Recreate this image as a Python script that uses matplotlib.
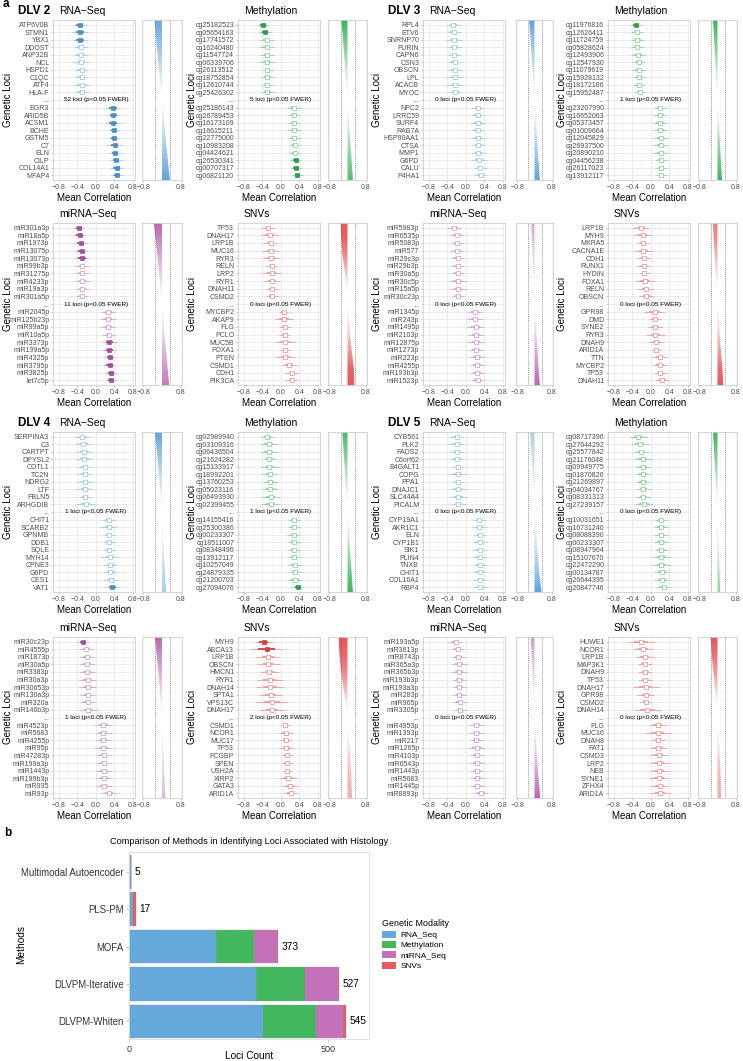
import numpy as np
import matplotlib.pyplot as plt
from matplotlib.colors import LinearSegmentedColormap
from matplotlib.patches import Patch
from matplotlib.path import Path

W, H = 743, 1061
plt.rcParams["font.family"] = ["Liberation Sans", "DejaVu Sans"]

# ---- panel a data: top 10 negative / top 10 positive loci per DLV and modality ----
dlv2_rna_loci = ["ATP6V0B", "STMN1", "YBX1", "DDOST", "ANP32B", "NCL", "HSPD1", "C1QC", "ATF4", "HLA-F",
                 "EGR3", "ARID5B", "ACSM1", "BCHE", "GSTM5", "C7", "ELN", "CILP", "COL14A1", "MFAP4"]
dlv2_rna_mean = [-0.35, -0.35, -0.34, -0.33, -0.32, -0.32, -0.31, -0.31, -0.31, -0.31,
                 0.37, 0.38, 0.38, 0.39, 0.40, 0.41, 0.42, 0.43, 0.45, 0.46]
dlv2_rna_err = [0.15, 0.17, 0.16, 0.15, 0.16, 0.17, 0.15, 0.15, 0.18, 0.16,
                0.16, 0.15, 0.17, 0.13, 0.13, 0.16, 0.13, 0.13, 0.15, 0.13]
dlv2_rna_filled = ["ATP6V0B", "STMN1", "YBX1", "EGR3", "ARID5B", "ACSM1", "BCHE", "GSTM5", "C7",
                   "ELN", "CILP", "COL14A1", "MFAP4"]
dlv2_rna_curve = [-0.32, -0.25, -0.17, -0.08, 0.01, 0.09, 0.17, 0.25, 0.34]

dlv2_meth_loci = ["cg25182523", "cg05654163", "cg17741572", "cg16240480", "cg11547724", "cg06339706",
                  "cg26113512", "cg18752854", "cg12610744", "cg25426302", "cg25186143", "cg26789453",
                  "cg16173109", "cg16615211", "cg22775000", "cg10983208", "cg04424621", "cg26530341",
                  "cg00707317", "cg06821120"]
dlv2_meth_mean = [-0.38, -0.35, -0.31, -0.31, -0.30, -0.30, -0.29, -0.29, -0.29, -0.29,
                  0.28, 0.29, 0.29, 0.29, 0.29, 0.30, 0.30, 0.32, 0.33, 0.36]
dlv2_meth_err = [0.13, 0.13, 0.16, 0.17, 0.15, 0.17, 0.12, 0.15, 0.13, 0.15,
                 0.15, 0.14, 0.14, 0.16, 0.14, 0.13, 0.13, 0.12, 0.12, 0.12]
dlv2_meth_filled = ["cg25182523", "cg05654163", "cg26530341", "cg00707317", "cg06821120"]
dlv2_meth_curve = [-0.27, -0.20, -0.13, -0.06, 0.0, 0.06, 0.12, 0.18, 0.24]

dlv2_mirna_loci = ["miR301a3p", "miR18a5p", "miR1973p", "miR13075p", "miR13073p", "miR99b3p", "miR31275p",
                   "miR4233p", "miR19a3p", "miR301a5p", "miR2045p", "miR125b23p", "miR99a5p", "miR10a5p",
                   "miR3373p", "miR199a5p", "miR4325p", "miR3795p", "miR3825p", "let7c5p"]
dlv2_mirna_mean = [-0.37, -0.35, -0.33, -0.31, -0.30, -0.30, -0.30, -0.29, -0.29, -0.29,
                   0.27, 0.27, 0.27, 0.28, 0.29, 0.29, 0.30, 0.30, 0.32, 0.33]
dlv2_mirna_err = [0.12, 0.14, 0.15, 0.14, 0.16, 0.15, 0.15, 0.17, 0.15, 0.13,
                  0.15, 0.17, 0.15, 0.14, 0.16, 0.15, 0.13, 0.14, 0.13, 0.14]
dlv2_mirna_filled = ["miR301a3p", "miR18a5p", "miR1973p", "miR13075p", "miR13073p", "miR3373p",
                     "miR199a5p", "miR4325p", "miR3795p", "miR3825p", "let7c5p"]
dlv2_mirna_curve = [-0.35, -0.26, -0.17, -0.08, 0.0, 0.07, 0.15, 0.23, 0.31]

dlv2_snv_loci = ["TP53", "DNAH17", "LRP1B", "MUC16", "RYR3", "RELN", "LRP2", "RYR1", "DNAH11", "CSMD2",
                 "MYCBP2", "AKAP9", "FLG", "PCLO", "MUC5B", "FOXA1", "PTEN", "CSMD1", "CDH1", "PIK3CA"]
dlv2_snv_mean = [-0.28, -0.24, -0.22, -0.22, -0.21, -0.20, -0.20, -0.19, -0.19, -0.19,
                 0.06, 0.07, 0.08, 0.08, 0.09, 0.09, 0.10, 0.18, 0.24, 0.24]
dlv2_snv_err = [0.14, 0.20, 0.16, 0.18, 0.17, 0.12, 0.20, 0.18, 0.13, 0.14,
                0.10, 0.20, 0.13, 0.12, 0.22, 0.10, 0.20, 0.16, 0.14, 0.14]
dlv2_snv_filled = []
dlv2_snv_curve = [-0.30, -0.28, -0.22, -0.12, -0.03, 0.02, 0.06, 0.12, 0.20, 0.28, 0.30]

dlv3_rna_loci = ["RPL4", "ETV6", "SNRNP70", "FURIN", "CAPN6", "CSN3", "OBSCN", "LPL", "ACACB", "MYOC",
                 "NPC2", "LRRC59", "SURF4", "RAB7A", "HSP90AA1", "CTSA", "MMP1", "G6PD", "CALU", "P4HA1"]
dlv3_rna_mean = [-0.27, -0.26, -0.25, -0.25, -0.25, -0.24, -0.24, -0.24, -0.24, -0.23,
                 0.26, 0.26, 0.26, 0.26, 0.27, 0.27, 0.27, 0.28, 0.31, 0.32]
dlv3_rna_err = [0.16, 0.15, 0.17, 0.16, 0.15, 0.15, 0.16, 0.18, 0.18, 0.15,
                0.14, 0.15, 0.17, 0.15, 0.17, 0.15, 0.16, 0.17, 0.14, 0.14]
dlv3_rna_filled = []
dlv3_rna_curve = [-0.25, -0.18, -0.12, -0.06, 0.0, 0.06, 0.12, 0.18, 0.25]

dlv3_meth_loci = ["cg11976816", "cg12626411", "cg11724759", "cg05828624", "cg12493906", "cg12547930",
                  "cg11079619", "cg15928132", "cg18172186", "cg15952487", "cg23207990", "cg16652063",
                  "cg05373457", "cg01009664", "cg12045829", "cg26937500", "cg20890210", "cg04456238",
                  "cg26117023", "cg13912117"]
dlv3_meth_mean = [-0.32, -0.30, -0.29, -0.29, -0.28, -0.26, -0.26, -0.26, -0.25, -0.24,
                  0.20, 0.20, 0.20, 0.20, 0.21, 0.21, 0.21, 0.22, 0.22, 0.23]
dlv3_meth_err = [0.13, 0.14, 0.14, 0.13, 0.16, 0.14, 0.15, 0.14, 0.13, 0.13,
                 0.14, 0.15, 0.16, 0.15, 0.16, 0.16, 0.16, 0.14, 0.14, 0.12]
dlv3_meth_filled = ["cg11976816"]
dlv3_meth_curve = [-0.20, -0.15, -0.10, -0.05, 0.0, 0.05, 0.10, 0.15, 0.20]

dlv3_mirna_loci = ["miR5983p", "miR6535p", "miR5083p", "miR577", "miR29c3p", "miR29b3p", "miR30a5p",
                   "miR30c5p", "miR15a5p", "miR30c23p", "miR1345p", "miR243p", "miR1495p", "miR2103p",
                   "miR12875p", "miR1273p", "miR223p", "miR4255p", "miR193b3p", "miR1523p"]
dlv3_mirna_mean = [-0.25, -0.20, -0.19, -0.19, -0.18, -0.18, -0.18, -0.18, -0.17, -0.17,
                   0.20, 0.20, 0.21, 0.22, 0.22, 0.22, 0.24, 0.24, 0.25, 0.26]
dlv3_mirna_err = [0.15, 0.17, 0.14, 0.15, 0.15, 0.15, 0.15, 0.18, 0.17, 0.14,
                  0.16, 0.17, 0.18, 0.18, 0.19, 0.16, 0.17, 0.16, 0.17, 0.15]
dlv3_mirna_filled = []
dlv3_mirna_curve = [-0.15, -0.11, -0.07, -0.03, 0.01, 0.06, 0.12, 0.18, 0.25]

dlv3_snv_loci = ["LRP1B", "MYH9", "MXRA5", "CACNA1E", "CDH1", "RUNX1", "HYDIN", "FOXA1", "RELN", "OBSCN",
                 "GPR98", "DMD", "SYNE2", "RYR3", "DNAH9", "ARID1A", "TTN", "MYCBP2", "TP53", "DNAH11"]
dlv3_snv_mean = [-0.22, -0.18, -0.17, -0.16, -0.15, -0.15, -0.14, -0.12, -0.11, -0.10,
                 0.08, 0.09, 0.10, 0.10, 0.11, 0.12, 0.19, 0.20, 0.20, 0.24]
dlv3_snv_err = [0.18, 0.20, 0.14, 0.20, 0.14, 0.14, 0.12, 0.22, 0.16, 0.16,
                0.22, 0.14, 0.16, 0.20, 0.18, 0.10, 0.16, 0.16, 0.14, 0.16]
dlv3_snv_filled = []
dlv3_snv_curve = [-0.20, -0.17, -0.12, -0.07, -0.02, 0.02, 0.06, 0.10, 0.16, 0.22, 0.25]

dlv4_rna_loci = ["SERPINA3", "C3", "CARTPT", "DPYSL2", "COTL1", "TC2N", "NDRG2", "LTF", "FBLN5", "ARHGDIB",
                 "CHIT1", "SCARB2", "GPNMB", "DDB1", "SQLE", "MYH14", "CPNE3", "G6PD", "CES1", "VAT1"]
dlv4_rna_mean = [-0.29, -0.27, -0.25, -0.25, -0.24, -0.24, -0.23, -0.23, -0.23, -0.22,
                 0.28, 0.28, 0.29, 0.29, 0.29, 0.30, 0.31, 0.31, 0.32, 0.36]
dlv4_rna_err = [0.17, 0.18, 0.19, 0.19, 0.16, 0.16, 0.18, 0.17, 0.13, 0.20,
                0.15, 0.18, 0.13, 0.14, 0.13, 0.18, 0.15, 0.15, 0.16, 0.16]
dlv4_rna_filled = ["VAT1"]
dlv4_rna_curve = [-0.30, -0.22, -0.14, -0.07, 0.0, 0.04, 0.08, 0.13, 0.18]

dlv4_meth_loci = ["cg02989940", "cg03109316", "cg06436504", "cg21624282", "cg15133917", "cg18992201",
                  "cg13760253", "cg05023116", "cg06493930", "cg02399455", "cg14155416", "cg25300386",
                  "cg00233307", "cg18511007", "cg08348496", "cg13912117", "cg10257049", "cg24879335",
                  "cg21200703", "cg27094076"]
dlv4_meth_mean = [-0.29, -0.26, -0.26, -0.25, -0.25, -0.24, -0.23, -0.23, -0.22, -0.22,
                  0.28, 0.28, 0.28, 0.29, 0.29, 0.29, 0.30, 0.31, 0.31, 0.37]
dlv4_meth_err = [0.14, 0.20, 0.19, 0.14, 0.20, 0.16, 0.16, 0.17, 0.20, 0.20,
                 0.13, 0.13, 0.14, 0.14, 0.13, 0.14, 0.15, 0.14, 0.16, 0.14]
dlv4_meth_filled = ["cg27094076"]
dlv4_meth_curve = [-0.23, -0.17, -0.11, -0.05, 0.0, 0.06, 0.12, 0.18, 0.24]

dlv4_mirna_loci = ["miR30c23p", "miR4555p", "miR1873p", "miR30a5p", "miR3383p", "miR30a3p", "miR30653p",
                   "miR130a3p", "miR320a", "miR146b3p", "miR4523p", "miR5683", "miR4255p", "miR95p",
                   "miR47283p", "miR199a3p", "miR1443p", "miR199b3p", "miR935", "miR93p"]
dlv4_mirna_mean = [-0.28, -0.21, -0.19, -0.19, -0.19, -0.18, -0.18, -0.18, -0.18, -0.16,
                   0.16, 0.16, 0.16, 0.16, 0.17, 0.17, 0.17, 0.17, 0.17, 0.28]
dlv4_mirna_err = [0.13, 0.15, 0.16, 0.18, 0.17, 0.18, 0.18, 0.16, 0.16, 0.20,
                  0.20, 0.18, 0.16, 0.20, 0.16, 0.16, 0.17, 0.17, 0.17, 0.17]
dlv4_mirna_filled = ["miR30c23p"]
dlv4_mirna_curve = [-0.30, -0.22, -0.14, -0.07, -0.01, 0.03, 0.07, 0.11, 0.15]

dlv4_snv_loci = ["MYH9", "ABCA13", "LRP1B", "OBSCN", "HMCN1", "RYR1", "DNAH14", "SPTA1", "VPS13C", "DNAH17",
                 "CSMD1", "NCOR1", "MUC17", "TP53", "FCGBP", "SPEN", "USH2A", "XIRP2", "GATA3", "ARID1A"]
dlv4_snv_mean = [-0.37, -0.31, -0.28, -0.27, -0.25, -0.24, -0.23, -0.22, -0.20, -0.19,
                 0.10, 0.11, 0.11, 0.12, 0.13, 0.13, 0.14, 0.16, 0.20, 0.21]
dlv4_snv_err = [0.20, 0.36, 0.25, 0.25, 0.20, 0.28, 0.30, 0.25, 0.35, 0.27,
                0.10, 0.15, 0.13, 0.16, 0.13, 0.13, 0.10, 0.20, 0.18, 0.15]
dlv4_snv_filled = ["MYH9", "ABCA13"]
dlv4_snv_curve = [-0.39, -0.36, -0.30, -0.20, -0.08, 0.0, 0.05, 0.10, 0.14, 0.18, 0.20]

dlv5_rna_loci = ["CYB561", "PLK2", "FADS2", "C6orf62", "B4GALT1", "COPG", "PPA1", "DNAJC1", "SLC44A4", "PICALM",
                 "CYP19A1", "AKR1C1", "ELN", "CYP1B1", "SIK1", "PLIN4", "TNXB", "CHIT1", "COL16A1", "RBP4"]
dlv5_rna_mean = [-0.20, -0.20, -0.19, -0.19, -0.18, -0.18, -0.17, -0.17, -0.16, -0.16,
                 0.29, 0.29, 0.30, 0.30, 0.30, 0.30, 0.31, 0.31, 0.31, 0.31]
dlv5_rna_err = [0.16, 0.18, 0.18, 0.16, 0.13, 0.20, 0.13, 0.18, 0.18, 0.16,
                0.14, 0.16, 0.13, 0.15, 0.16, 0.16, 0.16, 0.16, 0.15, 0.15]
dlv5_rna_filled = []
dlv5_rna_curve = [-0.20, -0.14, -0.09, -0.04, 0.01, 0.07, 0.14, 0.22, 0.33]

dlv5_meth_loci = ["cg08717396", "cg27644292", "cg25577842", "cg21176048", "cg09949775", "cg01870826",
                  "cg21269897", "cg04034767", "cg08331313", "cg27239157", "cg10031651", "cg16731240",
                  "cg08088390", "cg00233307", "cg08947964", "cg15107670", "cg22472290", "cg00134787",
                  "cg26644395", "cg20847746"]
dlv5_meth_mean = [-0.27, -0.24, -0.22, -0.18, -0.17, -0.17, -0.17, -0.16, -0.16, -0.15,
                  0.22, 0.22, 0.22, 0.22, 0.23, 0.23, 0.23, 0.24, 0.24, 0.28]
dlv5_meth_err = [0.18, 0.20, 0.17, 0.20, 0.17, 0.16, 0.16, 0.17, 0.16, 0.20,
                 0.14, 0.16, 0.15, 0.16, 0.15, 0.20, 0.20, 0.17, 0.17, 0.16]
dlv5_meth_filled = []
dlv5_meth_curve = [-0.20, -0.15, -0.10, -0.05, 0.0, 0.03, 0.06, 0.09, 0.12]

dlv5_mirna_loci = ["miR193a5p", "miR3613p", "miR8743p", "miR365a3p", "miR365b3p", "miR193b3p", "miR193a3p",
                   "miR283p", "miR965p", "miR3305p", "miR4953p", "miR1393p", "miR217", "miR1265p",
                   "miR4103p", "miR6543p", "miR1443p", "miR5683", "miR1445p", "miR8893p"]
dlv5_mirna_mean = [-0.22, -0.18, -0.16, -0.15, -0.15, -0.14, -0.14, -0.14, -0.13, -0.12,
                   0.23, 0.23, 0.23, 0.24, 0.24, 0.24, 0.25, 0.25, 0.25, 0.33]
dlv5_mirna_err = [0.14, 0.15, 0.15, 0.18, 0.18, 0.15, 0.14, 0.14, 0.15, 0.13,
                  0.16, 0.16, 0.14, 0.20, 0.15, 0.17, 0.15, 0.16, 0.16, 0.16]
dlv5_mirna_filled = []
dlv5_mirna_curve = [-0.18, -0.13, -0.08, -0.04, 0.0, 0.06, 0.12, 0.19, 0.27]

dlv5_snv_loci = ["HUWE1", "NCOR1", "LRP1B", "MAP3K1", "DNAH9", "TP53", "DNAH17", "GPR98", "CSMD2", "DNAH14",
                 "FLG", "MUC16", "DNAH8", "FAT1", "CSMD3", "LRP2", "NEB", "SYNE1", "ZFHX4", "ARID1A"]
dlv5_snv_mean = [-0.21, -0.17, -0.13, -0.13, -0.12, -0.12, -0.11, -0.11, -0.11, -0.09,
                 0.15, 0.15, 0.16, 0.16, 0.17, 0.17, 0.17, 0.18, 0.19, 0.20]
dlv5_snv_err = [0.30, 0.22, 0.20, 0.15, 0.15, 0.15, 0.28, 0.18, 0.12, 0.30,
                0.20, 0.28, 0.15, 0.20, 0.20, 0.22, 0.22, 0.22, 0.20, 0.23]
dlv5_snv_filled = []
dlv5_snv_curve = [-0.30, -0.26, -0.20, -0.12, -0.04, 0.0, 0.04, 0.08, 0.12, 0.15, 0.16]

# significant loci counts, order: RNA-Seq, Methylation, miRNA-Seq, SNVs
dlv2_sig = [52, 5, 11, 0]
dlv3_sig = [0, 1, 0, 0]
dlv4_sig = [1, 1, 1, 2]
dlv5_sig = [0, 0, 0, 0]

# ---- panel b data ----
methods = ["Multimodal Autoencoder", "PLS-PM", "MOFA", "DLVPM-Iterative", "DLVPM-Whiten"]
rna_counts = [5, 11, 219, 319, 337]
meth_counts = [0, 0, 95, 122, 131]
mirna_counts = [0, 0, 58, 83, 70]
snv_counts = [0, 6, 1, 3, 7]
method_totals = [5, 17, 373, 527, 545]

modality_titles = ["RNA\u2212Seq", "Methylation", "miRNA\u2212Seq", "SNVs"]
legend_names = ["RNA_Seq", "Methylation", "miRNA_Seq", "SNVs"]

# base, light, dark
PALETTE = [
    ("#5FA6DC", "#A6CBEA", "#4C8FC6"),
    ("#3DB65B", "#92D3A1", "#2F9C4B"),
    ("#BB66B4", "#D9A5D4", "#A2509C"),
    ("#E8575B", "#F09C9E", "#D8403F"),
]
BAR_COLORS = ["#64A8DC", "#42B75E", "#C470BB", "#E65A5B"]

fig = plt.figure(figsize=(W / 100, H / 100), dpi=100)


def px_axes(x0, y0, x1, y1):
    return fig.add_axes([x0 / W, 1 - y1 / H, (x1 - x0) / W, (y1 - y0) / H])


def fig_text(x, y, s, **kw):
    return fig.text(x / W, 1 - y / H, s, **kw)


def minus(v):
    return f"{v:.1f}".replace("-", "\u2212")


def style_frame(ax):
    for s in ax.spines.values():
        s.set_color("#CFCFCF")
        s.set_linewidth(0.6)
    ax.set_axisbelow(True)
    ax.tick_params(length=1.5, width=0.4, color="#9E9E9E", labelsize=5,
                   labelcolor="#4D4D4D", pad=1.2)
    ax.tick_params(which="minor", length=0)


def draw_dots(ax, loci, mean, err, filled, n_sig, k):
    base, light, dark = PALETTE[k]
    rows = [i if i < 10 else i + 1 for i in range(len(loci))]
    for y, name, m, e in zip(rows, loci, mean, err):
        col = dark if name in filled else light
        ax.plot([m - e, m + e], [y, y], color=light, lw=0.6, solid_capstyle="butt", zorder=2)
        ax.plot([m - e / 2, m + e / 2], [y, y], color=col, lw=1.3, solid_capstyle="butt", zorder=2)
        if name in filled:
            ax.plot(m, y, "s", ms=2.7, mfc=dark, mec=dark, mew=0.5, zorder=3)
        else:
            ax.plot(m, y, "s", ms=2.7, mfc="white", mec=light, mew=0.6, zorder=3)
    ax.text(0, 10, f"{n_sig} loci (p<0.05 FWER)", ha="center", va="center", fontsize=4.6, zorder=4)
    ax.set_yticks(rows[:10] + [10] + rows[10:])
    ax.set_yticklabels(loci[:10] + ["..."] + loci[10:], fontsize=5.3)
    ax.set_ylim(20.6, -0.6)
    ax.set_xlim(-0.93, 0.85)
    ticks = [-0.8, -0.4, 0.0, 0.4, 0.8]
    ax.set_xticks(ticks)
    ax.set_xticklabels([minus(t) for t in ticks])
    ax.set_xticks([-0.6, -0.2, 0.2, 0.6], minor=True)
    ax.grid(True, which="major", color="#E4E4E4", lw=0.5)
    ax.grid(True, which="minor", axis="x", color="#F1F1F1", lw=0.4)
    style_frame(ax)
    ax.set_xlabel("Mean Correlation", fontsize=7, labelpad=1.5)


def draw_side(ax, curve, k):
    base = PALETTE[k][0]
    ypos = np.linspace(0, 1, len(curve))
    poly = ax.fill_betweenx(ypos, 0, curve, facecolor="none", edgecolor="none")
    clip = Path.make_compound_path(*poly.get_paths())
    # colour fades to white where the sorted correlation crosses zero
    yy = np.linspace(0, 1, 300)
    shade = np.abs(np.interp(yy, ypos, curve))
    shade = (shade / shade.max()) ** 1.1
    cmap = LinearSegmentedColormap.from_list("fade", ["white", base])
    im = ax.imshow(shade[:, None], extent=(-0.86, 0.86, 1, 0), aspect="auto", cmap=cmap,
                   vmin=0, vmax=1, interpolation="bilinear", zorder=2)
    im.set_clip_path(clip, transform=ax.transData)
    ax.axvline(-0.28, color="#6A6A6A", ls=(0, (1, 1.5)), lw=0.6, zorder=3)
    ax.axvline(0.33, color="#6A6A6A", ls=(0, (1, 1.5)), lw=0.6, zorder=3)
    ax.set_xlim(-0.86, 0.86)
    ax.set_ylim(1.0, 0.0)
    ax.set_xticks([-0.8, 0.8])
    ax.set_xticklabels([minus(-0.8), minus(0.8)])
    ax.set_yticks([])
    ax.grid(True, axis="x", color="#ECECEC", lw=0.4)
    style_frame(ax)


col_x = [(53, 135, 142, 182), (238, 320, 328, 367), (423, 505, 516, 553), (608, 690, 698, 737)]
row_y = [(20, 180), (223, 385), (432, 592), (637, 798)]
ylab_x = [8, 192, 377, 562]

blocks = [
    ("DLV 2", 0, 0, dlv2_sig, [
        (dlv2_rna_loci, dlv2_rna_mean, dlv2_rna_err, dlv2_rna_filled, dlv2_rna_curve),
        (dlv2_meth_loci, dlv2_meth_mean, dlv2_meth_err, dlv2_meth_filled, dlv2_meth_curve),
        (dlv2_mirna_loci, dlv2_mirna_mean, dlv2_mirna_err, dlv2_mirna_filled, dlv2_mirna_curve),
        (dlv2_snv_loci, dlv2_snv_mean, dlv2_snv_err, dlv2_snv_filled, dlv2_snv_curve)]),
    ("DLV 3", 0, 2, dlv3_sig, [
        (dlv3_rna_loci, dlv3_rna_mean, dlv3_rna_err, dlv3_rna_filled, dlv3_rna_curve),
        (dlv3_meth_loci, dlv3_meth_mean, dlv3_meth_err, dlv3_meth_filled, dlv3_meth_curve),
        (dlv3_mirna_loci, dlv3_mirna_mean, dlv3_mirna_err, dlv3_mirna_filled, dlv3_mirna_curve),
        (dlv3_snv_loci, dlv3_snv_mean, dlv3_snv_err, dlv3_snv_filled, dlv3_snv_curve)]),
    ("DLV 4", 2, 0, dlv4_sig, [
        (dlv4_rna_loci, dlv4_rna_mean, dlv4_rna_err, dlv4_rna_filled, dlv4_rna_curve),
        (dlv4_meth_loci, dlv4_meth_mean, dlv4_meth_err, dlv4_meth_filled, dlv4_meth_curve),
        (dlv4_mirna_loci, dlv4_mirna_mean, dlv4_mirna_err, dlv4_mirna_filled, dlv4_mirna_curve),
        (dlv4_snv_loci, dlv4_snv_mean, dlv4_snv_err, dlv4_snv_filled, dlv4_snv_curve)]),
    ("DLV 5", 2, 2, dlv5_sig, [
        (dlv5_rna_loci, dlv5_rna_mean, dlv5_rna_err, dlv5_rna_filled, dlv5_rna_curve),
        (dlv5_meth_loci, dlv5_meth_mean, dlv5_meth_err, dlv5_meth_filled, dlv5_meth_curve),
        (dlv5_mirna_loci, dlv5_mirna_mean, dlv5_mirna_err, dlv5_mirna_filled, dlv5_mirna_curve),
        (dlv5_snv_loci, dlv5_snv_mean, dlv5_snv_err, dlv5_snv_filled, dlv5_snv_curve)]),
]

for dlv_name, r0, c0, sig, panels in blocks:
    fig_text(col_x[c0][0] - 35, row_y[r0][0] - 9, dlv_name, fontsize=8.5,
             fontweight="bold", va="center")
    for k, (loci, mean, err, filled, curve) in enumerate(panels):
        r = r0 + k // 2
        c = c0 + k % 2
        dx0, dx1, sx0, sx1 = col_x[c]
        y0, y1 = row_y[r]
        ax = px_axes(dx0, y0, dx1, y1)
        draw_dots(ax, loci, mean, err, filled, sig[k], k)
        side = px_axes(sx0, y0, sx1, y1)
        draw_side(side, curve, k)
        fig_text(dx0 + 6, y0 - 9, modality_titles[k], fontsize=7.5, va="center")
        fig_text(ylab_x[c], (y0 + y1) / 2, "Genetic Loci", fontsize=7, rotation=90,
                 va="center", ha="center")

fig_text(3, 4, "a", fontsize=8.5, fontweight="bold", va="center")

# ---- panel b ----
narrow = ["Liberation Sans Narrow", "Liberation Sans", "DejaVu Sans"]
fig_text(4, 833, "b", fontsize=8.5, fontweight="bold", va="center")
fig_text(249, 841, "Comparison of Methods in Identifying Loci Associated with Histology",
         fontsize=6.6, ha="center", va="center", family=narrow)

axb = px_axes(129, 852, 369, 1039)
ypos = np.arange(len(methods))
left = np.zeros(len(methods))
for counts, color in zip([rna_counts, meth_counts, mirna_counts, snv_counts], BAR_COLORS):
    axb.barh(ypos, counts, left=left, height=0.9, color=color, edgecolor="#9A9A9A", linewidth=0.25)
    left = left + np.array(counts)
for yi, tot in zip(ypos, method_totals):
    axb.text(tot + 9, yi, str(tot), va="center", ha="left", fontsize=7.3, family=narrow)
axb.set_ylim(4.47, -0.53)
axb.set_xlim(0, 602)
axb.set_yticks(ypos)
axb.set_yticklabels(methods, fontsize=6.9, family=narrow)
axb.set_xticks([0, 500])
axb.set_xticklabels(["0", "500"], fontsize=6.5, family=narrow)
for s in axb.spines.values():
    s.set_color("#DCDCDC")
    s.set_linewidth(0.6)
axb.tick_params(length=2, width=0.4, color="#9E9E9E", labelcolor="#333333", pad=2)
fig_text(249, 1056, "Loci Count", fontsize=7.3, ha="center", va="center", family=narrow)
fig_text(21, 945, "Methods", fontsize=7.3, rotation=90, ha="center", va="center", family=narrow)

handles = [Patch(facecolor=c, edgecolor="none") for c in BAR_COLORS]
leg = fig.legend(handles, legend_names, loc="upper left", bbox_to_anchor=(374 / W, 1 - 912 / H),
                 frameon=False, title="Genetic Modality", title_fontsize=6.4,
                 handlelength=1.7, handleheight=0.9, labelspacing=0.25, handletextpad=0.6,
                 alignment="left", prop={"family": narrow, "size": 6.0})
leg.get_title().set_family(narrow)

fig.savefig("out.png", dpi=100)
